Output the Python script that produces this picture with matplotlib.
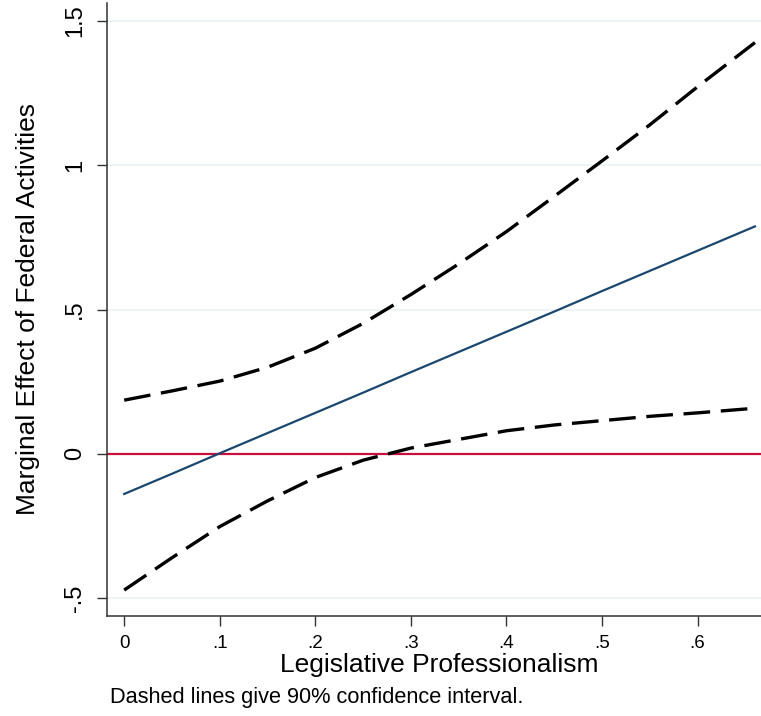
import numpy as np
import matplotlib
matplotlib.use('Agg')
import matplotlib.pyplot as plt

plt.rcParams['font.family'] = ['Liberation Sans', 'DejaVu Sans']

# legislative professionalism values and marginal effects
prof = [0, 0.05, 0.1, 0.15, 0.2, 0.25, 0.3, 0.35, 0.4, 0.45, 0.5, 0.55, 0.6, 0.66]
effect = [-0.139, -0.069, 0.002, 0.072, 0.142, 0.212, 0.283, 0.353, 0.423, 0.493, 0.564, 0.634, 0.704, 0.788]
upper = [0.186, 0.218, 0.252, 0.30, 0.366, 0.452, 0.552, 0.658, 0.77, 0.892, 1.015, 1.14, 1.272, 1.425]
lower = [-0.472, -0.36, -0.252, -0.163, -0.082, -0.022, 0.02, 0.05, 0.08, 0.10, 0.115, 0.13, 0.142, 0.158]

xticks = [0, 0.1, 0.2, 0.3, 0.4, 0.5, 0.6]
xticklabels = ['0', '.1', '.2', '.3', '.4', '.5', '.6']
yticks = [-0.5, 0, 0.5, 1, 1.5]
yticklabels = ['-.5', '0', '.5', '1', '1.5']

fig = plt.figure(figsize=(7.61, 7.16), dpi=100)
ax = fig.add_axes([0.1406, 0.140, 0.859, 0.856])

for yt in yticks:
    ax.axhline(yt, color='#eaf2f3', lw=1.2, zorder=0)

ax.axhline(0, color='#c8103e', lw=1.6, zorder=2)
ax.plot(prof, effect, color='#1a476f', lw=1.6, zorder=3)
ax.plot(prof, upper, color='black', lw=2.4, dashes=(8, 3.2), zorder=3)
ax.plot(prof, lower, color='black', lw=2.4, dashes=(8, 3.2), zorder=3)

ax.set_xlim(-0.018, 0.666)
ax.set_ylim(-0.561, 1.5625)
ax.set_xticks(xticks)
ax.set_xticklabels(xticklabels, fontsize=13.5)
ax.set_yticks(yticks)
ax.set_yticklabels(yticklabels, rotation=90, va='center', fontsize=17)

for s in ['top', 'right']:
    ax.spines[s].set_visible(False)
for s in ['left', 'bottom']:
    ax.spines[s].set_color('#333333')
    ax.spines[s].set_linewidth(1.1)

ax.tick_params(axis='both', direction='out', length=7, width=1.0, color='#333333', pad=8)
ax.tick_params(axis='x', pad=7)

ax.set_xlabel('Legislative Professionalism', fontsize=19)
ax.xaxis.set_label_coords(0.509, -0.061)
ax.xaxis.label.set_va('top')
ax.set_ylabel('Marginal Effect of Federal Activities', fontsize=19)
ax.yaxis.set_label_coords(-0.1025, 0.5)

fig.text(110/761, 1 - 698/716, 'Dashed lines give 90% confidence interval.', fontsize=15.7, va='center', ha='left')

plt.savefig('out.png', dpi=100)
